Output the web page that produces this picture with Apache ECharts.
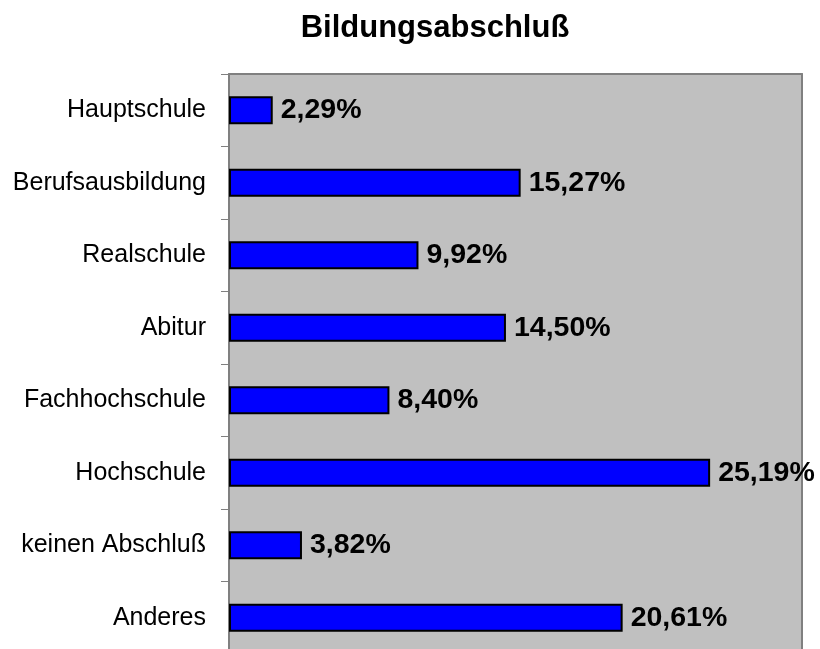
<!DOCTYPE html>
<html>
<head>
  <meta charset="utf-8">
  <title>Bildungsabschluß</title>
  <style>
    html, body { margin: 0; padding: 0; background: #fff; }
    #main { width: 820px; height: 649px; }
  </style>
</head>
<body>
  <div id="main"></div>
  <script src="https://cdn.jsdelivr.net/npm/echarts@6/dist/echarts.min.js"></script>
  <script>
    // Daten
    var kategorien = ["Hauptschule", "Berufsausbildung", "Realschule", "Abitur",
      "Fachhochschule", "Hochschule", "keinen Abschluß", "Anderes"];
    var anteile = [2.29, 15.27, 9.92, 14.50, 8.40, 25.19, 3.82, 20.61];

    var chart = echarts.init(document.getElementById("main"), null, { renderer: "canvas" });

    var option = {
      animation: false,
      title: {
        text: "Bildungsabschluß",
        left: 430,
        top: 8,
        textAlign: "center",
        textStyle: { fontFamily: "Liberation Sans", fontSize: 31, fontWeight: "bold", color: "#000" }
      },
      grid: {
        left: 229, top: 74, width: 573, height: 580,
        outerBoundsMode: "none",
        show: true,
        backgroundColor: "#C0C0C0",
        borderWidth: 0
      },
      xAxis: [{
        type: "value",
        min: 0,
        max: 30,
        position: "top",
        axisLine: { show: true, onZero: false, lineStyle: { color: "#808080", width: 2 } },
        axisTick: { show: false },
        axisLabel: { show: false },
        splitLine: { show: false }
      }],
      yAxis: [{
        type: "category",
        data: kategorien,
        inverse: true,
        axisLine: { show: true, onZero: false, lineStyle: { color: "#808080", width: 2 } },
        axisTick: { show: true, length: 8, lineStyle: { color: "#808080", width: 1 } },
        axisLabel: {
          margin: 23,
          fontFamily: "Liberation Sans",
          fontSize: 25,
          color: "#000"
        },
        splitLine: { show: false }
      }, {
        // rechter Rahmen
        type: "category",
        data: kategorien,
        inverse: true,
        position: "right",
        axisLine: { show: true, onZero: false, lineStyle: { color: "#808080", width: 2 } },
        axisTick: { show: false },
        axisLabel: { show: false },
        splitLine: { show: false }
      }],
      series: [{
        type: "bar",
        data: anteile,
        barWidth: 28,
        itemStyle: { color: "#0000FF", borderColor: "#000", borderWidth: 2 },
        label: {
          show: true,
          position: "right",
          distance: 8,
          fontFamily: "Liberation Sans",
          fontSize: 28.5,
          fontWeight: "bold",
          color: "#000",
          formatter: function (p) {
            return p.value.toFixed(2).replace(".", ",") + "%";
          }
        }
      }]
    };

    chart.setOption(option);
  </script>
</body>
</html>
